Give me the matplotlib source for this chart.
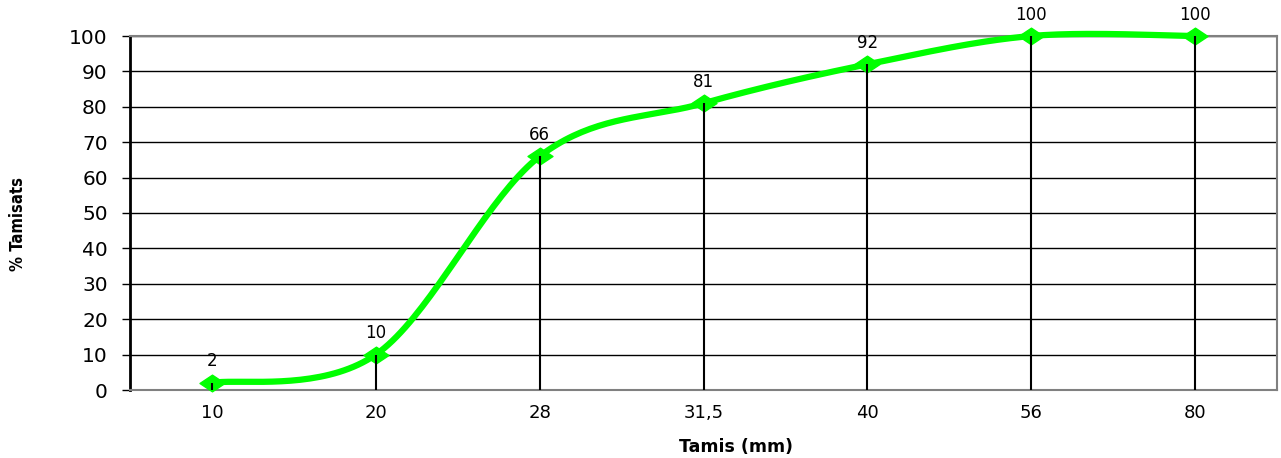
import numpy as np
import matplotlib
matplotlib.use("Agg")
import matplotlib.pyplot as plt
from matplotlib.path import Path

categories = ["10", "20", "28", "31,5", "40", "56", "80"]
values = [2, 10, 66, 81, 92, 100, 100]
yticks = [0, 10, 20, 30, 40, 50, 60, 70, 80, 90, 100]

fig = plt.figure(figsize=(12.81, 4.58), dpi=100)
ax = fig.add_axes([130/1281, 1-390/458, (1277-130)/1281, (390-36)/458])
ax.set_xlim(-0.5, len(categories) - 0.5)
ax.set_ylim(0, 100)

x = np.arange(len(categories))
y = np.array(values, dtype=float)

# grid
ax.set_yticks(yticks)
ax.yaxis.grid(True, color="black", linewidth=1.0)
ax.set_axisbelow(True)

# smoothed line (Catmull-Rom style Bezier in display space)
fig.canvas.draw()
pts = ax.transData.transform(np.column_stack([x, y]))
curve = []
n = len(pts)
for i in range(n - 1):
    p0 = pts[i - 1] if i > 0 else pts[i]
    p1 = pts[i]
    p2 = pts[i + 1]
    p3 = pts[i + 2] if i + 2 < n else pts[i + 1]
    c1 = p1 + (p2 - p0) / 6.0
    c2 = p2 - (p3 - p1) / 6.0
    t = np.linspace(0, 1, 40)[:, None]
    seg = ((1 - t) ** 3) * p1 + 3 * ((1 - t) ** 2) * t * c1 + 3 * (1 - t) * t ** 2 * c2 + t ** 3 * p2
    curve.append(seg if i == 0 else seg[1:])
curve = np.vstack(curve)
curve_d = ax.transData.inverted().transform(curve)
ax.plot(curve_d[:, 0], curve_d[:, 1], color="#00FF00", linewidth=4.5, zorder=3,
        solid_capstyle="round", clip_on=False)

diamond = Path([(-1.5, 0), (0, 1), (1.5, 0), (0, -1), (-1.5, 0)],
               [Path.MOVETO, Path.LINETO, Path.LINETO, Path.LINETO, Path.CLOSEPOLY])
ax.plot(x, y, linestyle="none", marker=diamond, markersize=18, color="#00FF00",
        markeredgecolor="#00FF00", zorder=4, clip_on=False)

# drop lines (drawn over the markers)
ax.vlines(x, 0, y, color="black", linewidth=1.5, zorder=5)

for xi, yi in zip(x, y):
    ax.annotate(f"{int(yi)}", (xi, yi), xytext=(0, 9), textcoords="offset points",
                ha="center", va="bottom", fontsize=12, color="black")

ax.set_xticks(x)
ax.set_xticklabels(categories, fontsize=13)
ax.tick_params(axis="x", length=0, pad=10)
ax.tick_params(axis="y", labelsize=14.5, length=6, width=1, direction="out", pad=10)

for s in ["top", "right", "bottom"]:
    ax.spines[s].set_color("#808080")
    ax.spines[s].set_linewidth(1.5)
ax.spines["left"].set_color("black")
ax.spines["left"].set_linewidth(2)

ax.set_xlabel("Tamis (mm)", fontsize=12.5, fontweight="bold")
ax.xaxis.set_label_coords((736 - 130) / (1277 - 130), (390 - 447) / (390 - 36))
ax.xaxis.label.set_va("center")
ax.set_ylabel("% Tamisats", fontsize=12, fontweight="bold", fontstretch="condensed")
ax.yaxis.set_label_coords((18 - 130) / (1277 - 130), (390 - 224) / (390 - 36))
ax.yaxis.label.set_va("center")

fig.savefig("out.png", dpi=100)
